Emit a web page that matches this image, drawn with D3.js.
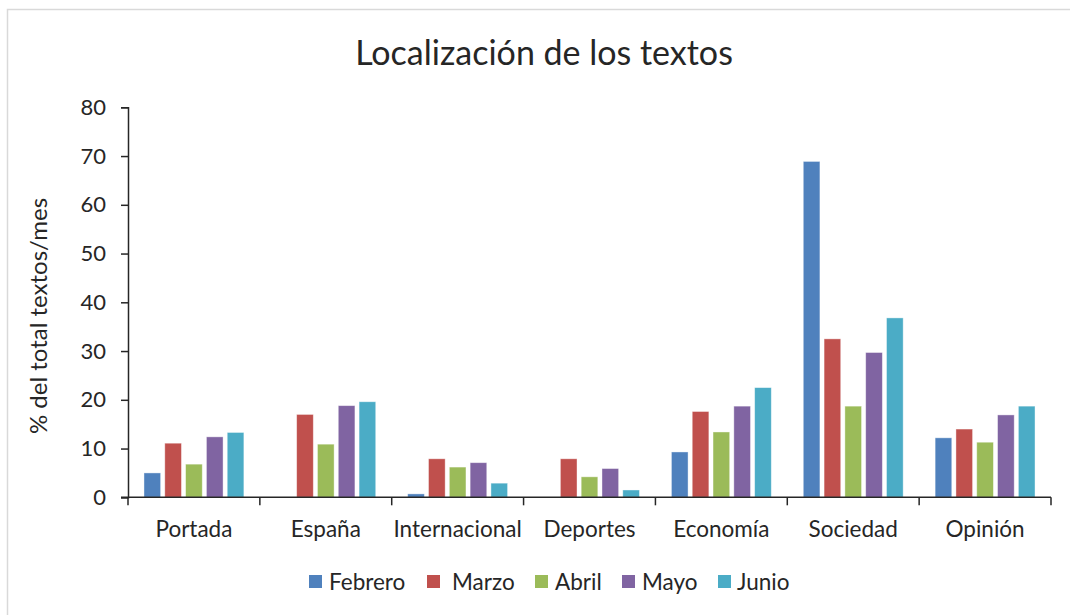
<!DOCTYPE html>
<html><head><meta charset="utf-8">
<script src="https://cdn.jsdelivr.net/npm/d3@7"></script>
<style>body{margin:0;background:#fff;} text{font-family:Lato,"Open Sans",sans-serif;fill:#262626;}</style>
</head><body>
<svg id="c" width="1070" height="615"></svg>
<script>
const categories = ["Portada","España","Internacional","Deportes","Economía","Sociedad","Opinión"];
const seriesNames = ["Febrero","Marzo","Abril","Mayo","Junio"];
const febrero = [5.0, 0, 0.7, 0, 9.3, 68.9, 12.2];
const marzo   = [11.1, 17.0, 7.9, 7.9, 17.6, 32.5, 14.0];
const abril   = [6.8, 10.9, 6.2, 4.2, 13.4, 18.7, 11.3];
const mayo    = [12.4, 18.8, 7.1, 5.9, 18.7, 29.7, 16.9];
const junio   = [13.3, 19.6, 2.9, 1.5, 22.5, 36.8, 18.7];
const yTicks = [0,10,20,30,40,50,60,70,80];
const colors = ["#4F81BD","#C0504D","#9BBB59","#8064A2","#4BACC6"];
const seriesValues = [febrero, marzo, abril, mayo, junio];

const svg = d3.select("#c");
svg.append("rect").attr("x",7.5).attr("y",9.5).attr("width",1080).attr("height",620)
  .attr("fill","#fff").attr("stroke","#d9d9d9").attr("stroke-width",1.5);

const pLeft = 128, pRight = 1051, pTop = 107.3, pBottom = 497.3;
const x = d3.scaleBand().domain(categories).range([pLeft,pRight]);
const y = d3.scaleLinear().domain([0,80]).range([pBottom,pTop]);
const inner = d3.scaleBand().domain(seriesNames).range([0, x.bandwidth()*100/132]).paddingInner(0.2);
const offset = x.bandwidth()*16/132;

const g = svg.append("g");
seriesNames.forEach((s,si)=>{
  g.selectAll(null).data(categories).enter().append("rect")
    .attr("x", (c)=> x(c)+offset+inner(s))
    .attr("width", inner.bandwidth())
    .attr("y", (c,i)=> y(seriesValues[si][i]))
    .attr("height", (c,i)=> pBottom - y(seriesValues[si][i]))
    .attr("fill", colors[si])
    .attr("stroke","#ffffff").attr("stroke-opacity",0.5).attr("stroke-width",0.8);
});

// y axis
const ya = svg.append("g").attr("transform",`translate(${pLeft},0)`)
  .call(d3.axisLeft(y).tickValues(yTicks).tickSize(7).tickPadding(15));
ya.select(".domain").attr("stroke","#262626").attr("stroke-width",1.5);
ya.selectAll(".tick line").attr("stroke","#262626").attr("stroke-width",1.5);
ya.selectAll(".tick text").style("font-size","22px").style("font-family","Lato, sans-serif").attr("fill","#262626");

// x axis
const xa = svg.append("g").attr("transform",`translate(0,${pBottom})`);
xa.append("line").attr("x1",pLeft-7).attr("x2",pRight).attr("y1",0).attr("y2",0)
  .attr("stroke","#262626").attr("stroke-width",1.5);
const bounds = categories.map(c=>x(c)).concat([pRight]);
xa.selectAll(null).data(bounds).enter().append("line")
  .attr("x1",d=>d).attr("x2",d=>d).attr("y1",0).attr("y2",8)
  .attr("stroke","#262626").attr("stroke-width",1.5);
xa.selectAll(null).data(categories).enter().append("text")
  .attr("x",c=>x(c)+x.bandwidth()/2).attr("y",39.5)
  .attr("text-anchor","middle").style("font-size","22.5px").text(c=>c);

// title
svg.append("text").attr("x",544).attr("y",65).attr("text-anchor","middle")
  .style("font-size","34px").text("Localización de los textos");

// y title
svg.append("text").attr("transform","translate(47,316) rotate(-90)")
  .attr("text-anchor","middle").style("font-size","24px").text("% del total textos/mes");

// legend
const legX = [309, 427, 535, 622, 718];
const legTX = [329, 452, 555, 642, 737];
const lg = svg.append("g");
seriesNames.forEach((s,i)=>{
  lg.append("rect").attr("x",legX[i]).attr("y",575).attr("width",13).attr("height",13).attr("fill",colors[i]);
  lg.append("text").attr("x",legTX[i]).attr("y",590).style("font-size","22.5px").text(s);
});
</script>
</body></html>
